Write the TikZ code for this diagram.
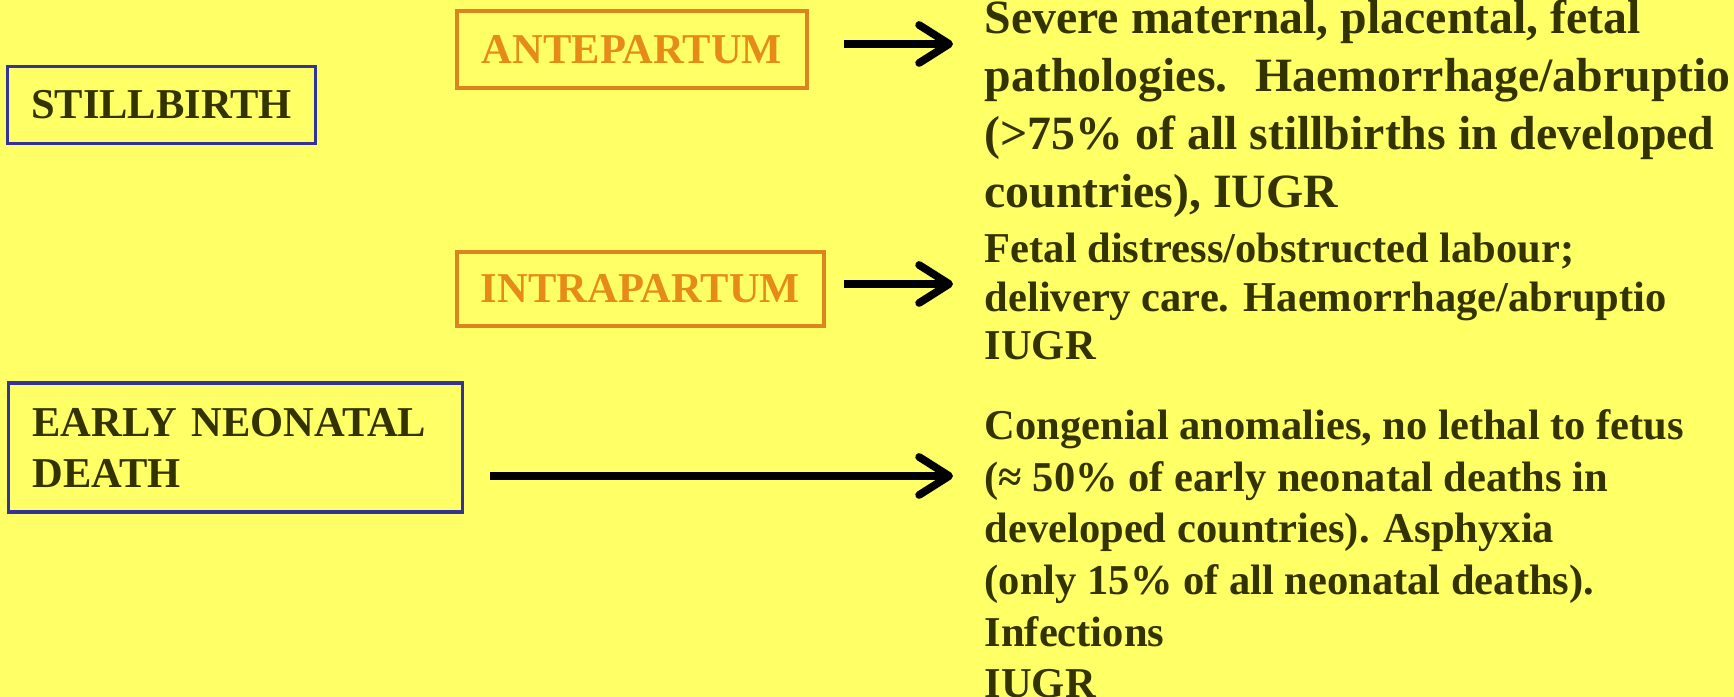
\documentclass[tikz,border=0pt]{standalone}
\usepackage{fontspec}
\setmainfont{Liberation Serif}
\usetikzlibrary{arrows.meta,positioning}

\definecolor{slideYellow}{RGB}{255,255,102}
\definecolor{textOlive}{RGB}{51,51,0}
\definecolor{boxBlue}{RGB}{51,51,153}
\definecolor{boxOrange}{RGB}{222,132,30}
\definecolor{textOrange}{RGB}{230,138,24}

\begin{document}
\begin{tikzpicture}
\tikzstyle{every node}+=[inner sep=0pt]
\tikzstyle{bluebox}=[draw=boxBlue, line width=0.9pt, text=textOlive, font=\fontsize{12.1}{14.5}\selectfont\bfseries]
\tikzstyle{orangebox}=[draw=boxOrange, line width=0.9pt, text=textOrange, font=\fontsize{12.1}{14.5}\selectfont\bfseries]
\tikzstyle{bigtxt}=[text=textOlive, align=left, font=\fontsize{13.6}{16.5}\selectfont\bfseries]
\tikzstyle{txt}=[text=textOlive, align=left, font=\fontsize{12.1}{14.7}\selectfont\bfseries]
\tikzstyle{arr}=[black, line width=2.2pt, -{Straight Barb[length=3mm,width=3.8mm,round]}]
\fill [slideYellow] (0,0) rectangle (17.34,-6.97);
\useasboundingbox (0,0) rectangle (17.34,-6.97);
% left column
\node [bluebox, minimum width=3.08cm, minimum height=0.77cm] (still) at (1.615,-1.05) {STILLBIRTH};
\node [bluebox, text width=4.06cm, inner xsep=0.24cm, minimum height=1.29cm, align=left] (early) at (2.355,-4.475) {EARLY NEONATAL\\DEATH};
% middle column
\node [orangebox, minimum width=3.5cm, minimum height=0.77cm] (ante) at (6.32,-0.495) {ANTEPARTUM};
\node [orangebox, minimum width=3.67cm, minimum height=0.74cm] (intra) at (6.405,-2.89) {INTRAPARTUM};
% causes (anchored on the last line)
\node [bigtxt, anchor=base west] (anteTxt) at (9.84,-2.075) {Severe maternal, placental, fetal\\pathologies.~ Haemorrhage/abruptio\\(>75\% of all stillbirths in developed\\countries), IUGR};
\node [txt, anchor=base west, font=\fontsize{12.1}{13.9}\selectfont\bfseries] (intraTxt) at (9.84,-3.60) {Fetal distress/obstructed labour;\\delivery care. Haemorrhage/abruptio\\IUGR};
\node [txt, anchor=base west] (earlyTxt) at (9.84,-6.98) {Congenial anomalies, no lethal to fetus\\(≈ 50\% of early neonatal deaths in\\developed countries). Asphyxia\\(only 15\% of all neonatal deaths).\\Infections\\IUGR};
% arrows
\draw [arr, shorten <=0.35cm, shorten >=0.31cm] ([yshift=0.055cm]ante.east) -- ([yshift=0.055cm]ante.east -| anteTxt.west);
\draw [arr, shorten <=0.18cm, shorten >=0.31cm] ([yshift=0.05cm]intra.east) -- ([yshift=0.05cm]intra.east -| intraTxt.west);
\draw [arr, shorten <=0.26cm, shorten >=0.31cm] ([yshift=-0.285cm]early.east) -- ([yshift=-0.285cm]early.east -| earlyTxt.west);
\end{tikzpicture}
\end{document}
